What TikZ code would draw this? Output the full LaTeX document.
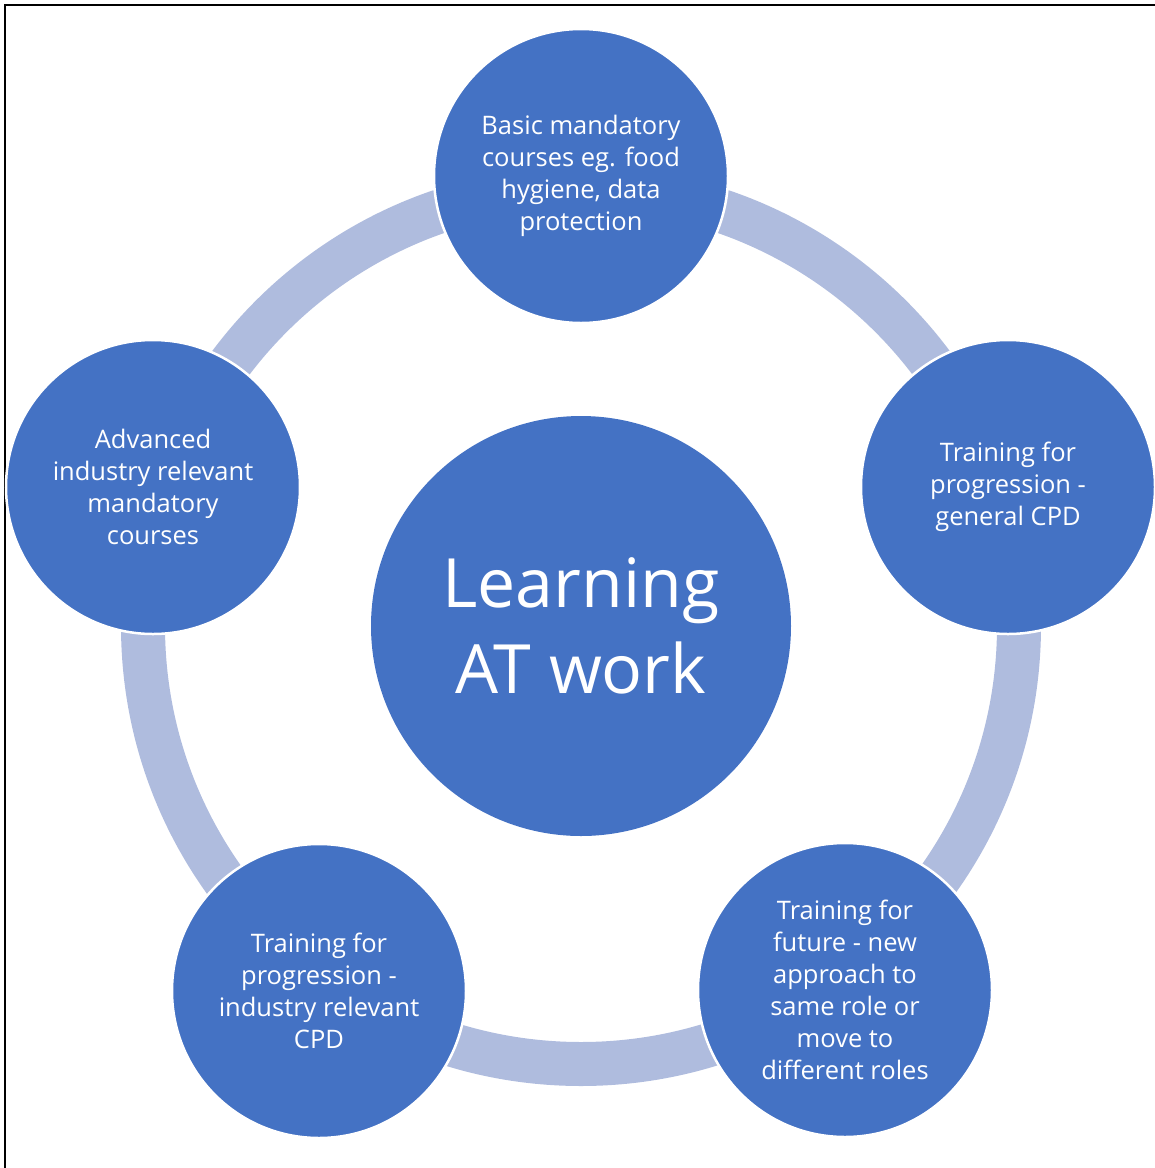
\documentclass[tikz,border=0pt]{standalone}
\usepackage{fontspec}
\setmainfont{Open Sans}
\definecolor{accent}{RGB}{68,114,196}
\definecolor{ringc}{RGB}{175,188,222}
\begin{document}
\begin{tikzpicture}[x=1pt,y=-1pt,
  sat/.style={circle, fill=accent, draw=white, line width=2.5pt, minimum size=294pt, inner sep=0pt,
    text=white, font=\fontsize{25.5}{32}\selectfont, align=center},
  hub/.style={circle, fill=accent, minimum size=420pt, inner sep=0pt,
    text=white, font=\fontsize{68}{86}\selectfont, align=center},
  ringline/.style={draw=ringc, line width=44pt}]
\useasboundingbox (0,0) rectangle (1155,1168);
\draw[line width=2pt] (5,1168) -- (5,5) -- (1155,5);
\coordinate (mid) at (581,626);
\draw[ringline] (mid) circle[radius=438pt];
\node[hub] (hubnode) at (mid) {Learning\\AT work};
\node[sat] (top) at (581,176) {Basic mandatory\\courses eg. food\\hygiene, data\\protection};
\node[sat] (right) at (1008,487) {Training for\\progression -\\general CPD};
\node[sat] (bright) at (845,990) {Training for\\future - new\\approach to\\same role or\\move to\\different roles};
\node[sat] (bleft) at (319,991) {Training for\\progression -\\industry relevant\\CPD};
\node[sat] (left) at (153,487) {Advanced\\industry relevant\\mandatory\\courses};
\end{tikzpicture}
\end{document}
